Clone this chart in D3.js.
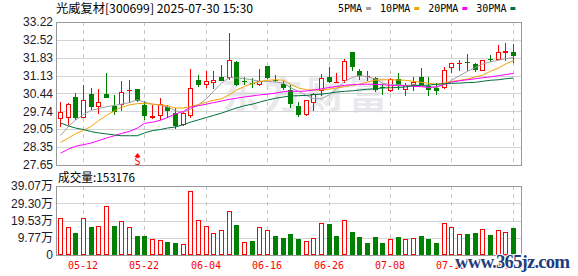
<!DOCTYPE html>
<html>
<head>
<meta charset="utf-8">
<script src="https://cdn.jsdelivr.net/npm/d3@7/dist/d3.min.js"></script>
<style>
  body { margin: 0; background: #fff; }
  svg { display: block; }
</style>
</head>
<body>
<div id="app"></div>
<script>
// DATA
const dates = [
  '05-07', '05-08', '05-09', '05-12', '05-13', '05-14', '05-15', '05-16', '05-19', '05-20',
  '05-21', '05-22', '05-23', '05-26', '05-27', '05-28', '05-29', '05-30', '06-03', '06-04',
  '06-05', '06-06', '06-09', '06-10', '06-11', '06-12', '06-13', '06-16', '06-17', '06-18',
  '06-19', '06-20', '06-23', '06-24', '06-25', '06-26', '06-27', '06-30', '07-01', '07-02',
  '07-03', '07-04', '07-07', '07-08', '07-09', '07-10', '07-11', '07-14', '07-15', '07-16',
  '07-17', '07-18', '07-21', '07-22', '07-23', '07-24', '07-25', '07-28', '07-29', '07-30'
];

const open = [
  29.43, 29.49, 30.30, 29.50, 30.41, 29.90, 30.41, 29.96, 29.97, 30.55,
  30.61, 29.99, 29.48, 29.55, 29.91, 29.67, 29.22, 29.55, 30.96, 30.75,
  30.84, 31.08, 31.04, 31.66, 30.93, 30.84, 30.75, 31.49, 30.97, 30.80,
  30.58, 29.93, 29.58, 30.05, 30.54, 31.08, 30.86, 30.91, 32.05, 31.32,
  31.09, 31.04, 30.69, 30.52, 31.01, 30.56, 30.78, 31.06, 30.71, 30.65,
  30.65, 31.43, 31.58, 31.68, 31.58, 31.30, 31.78, 31.75, 32.00, 32.04
];
const close = [
  29.70, 30.04, 29.48, 30.17, 29.91, 30.09, 30.27, 29.70, 30.48, 30.57,
  30.15, 29.57, 29.56, 30.03, 29.77, 29.18, 29.67, 30.65, 30.78, 30.91,
  30.96, 30.93, 31.73, 30.75, 30.91, 30.80, 30.91, 31.04, 30.93, 30.65,
  30.02, 29.58, 30.17, 30.41, 31.04, 30.88, 30.88, 31.71, 31.45, 31.10,
  31.13, 30.58, 30.65, 31.00, 30.78, 30.75, 30.87, 30.78, 30.57, 30.54,
  31.34, 31.61, 31.64, 31.65, 31.36, 31.73, 31.73, 32.04, 32.08, 31.91
];
const high = [
  30.10, 30.06, 30.45, 30.75, 30.65, 30.61, 31.23, 30.36, 30.91, 30.95,
  30.61, 30.15, 29.97, 30.26, 30.00, 29.87, 29.70, 31.39, 31.17, 31.32,
  31.32, 31.56, 32.79, 31.71, 31.06, 31.04, 31.39, 31.50, 31.14, 30.91,
  30.75, 30.10, 30.17, 30.45, 31.20, 31.47, 31.23, 31.79, 32.05, 31.39,
  31.30, 31.06, 30.80, 31.04, 31.23, 30.84, 31.06, 31.43, 31.06, 30.84,
  31.47, 31.61, 31.73, 31.97, 31.64, 31.75, 31.95, 32.34, 32.40, 32.36
];
const low = [
  29.14, 29.22, 29.42, 29.48, 29.80, 29.64, 30.27, 29.61, 29.74, 30.06,
  30.10, 29.42, 29.45, 29.39, 29.48, 29.06, 29.18, 29.50, 30.70, 30.65,
  30.61, 30.91, 30.97, 30.72, 30.75, 30.65, 30.71, 31.00, 30.88, 30.58,
  29.87, 29.53, 29.55, 29.74, 30.32, 30.84, 30.84, 30.84, 31.30, 30.97,
  30.91, 30.49, 30.39, 30.50, 30.58, 30.32, 30.54, 30.75, 30.35, 30.39,
  30.61, 31.23, 31.30, 31.32, 31.27, 31.30, 31.65, 31.73, 31.69, 31.62
];

const ma5 = [
  28.80, 29.15, 29.40, 29.62, 29.78, 29.85, 29.92, 29.97, 30.02, 30.08,
  30.19, 30.10, 30.02, 29.97, 29.91, 29.76, 29.70, 29.83, 30.00, 30.23,
  30.52, 30.84, 31.06, 31.04, 31.01, 30.97, 30.91, 30.91, 30.88, 30.84,
  30.67, 30.52, 30.36, 30.23, 30.23, 30.39, 30.61, 30.91, 31.06, 31.13,
  31.09, 31.00, 30.84, 30.78, 30.78, 30.75, 30.78, 30.73, 30.67, 30.67,
  30.78, 30.95, 31.13, 31.30, 31.45, 31.58, 31.67, 31.73, 31.79, 31.84
];
const ma10 = [
  28.53, 28.70, 28.86, 29.00, 29.16, 29.38, 29.58, 29.76, 29.90, 29.99,
  30.04, 30.05, 30.02, 30.00, 29.95, 29.87, 29.87, 29.93, 30.00, 30.10,
  30.17, 30.23, 30.39, 30.57, 30.71, 30.82, 30.90, 30.95, 30.97, 30.95,
  30.80, 30.65, 30.58, 30.57, 30.58, 30.61, 30.65, 30.70, 30.75, 30.80,
  30.88, 30.96, 30.97, 30.97, 30.96, 30.95, 30.91, 30.87, 30.83, 30.80,
  30.84, 30.90, 30.95, 31.00, 31.08, 31.15, 31.30, 31.43, 31.58, 31.71
];
const ma20 = [
  28.11, 28.27, 28.38, 28.44, 28.51, 28.60, 28.70, 28.79, 28.88, 28.96,
  29.09, 29.27, 29.32, 29.39, 29.50, 29.64, 29.74, 29.90, 29.96, 30.02,
  30.08, 30.14, 30.21, 30.25, 30.30, 30.34, 30.38, 30.41, 30.45, 30.51,
  30.53, 30.52, 30.53, 30.57, 30.62, 30.67, 30.71, 30.75, 30.78, 30.79,
  30.80, 30.79, 30.78, 30.75, 30.74, 30.73, 30.71, 30.70, 30.67, 30.70,
  30.80, 30.88, 30.93, 30.97, 31.01, 31.05, 31.08, 31.13, 31.17, 31.22
];
const ma30 = [
  29.29, 29.17, 29.09, 29.03, 28.95, 28.90, 28.86, 28.82, 28.79, 28.79,
  28.79, 28.90, 28.99, 29.03, 29.09, 29.13, 29.22, 29.32, 29.41, 29.50,
  29.58, 29.67, 29.78, 29.87, 29.96, 30.02, 30.10, 30.18, 30.25, 30.30,
  30.34, 30.35, 30.36, 30.39, 30.41, 30.45, 30.49, 30.52, 30.54, 30.57,
  30.60, 30.62, 30.65, 30.66, 30.67, 30.69, 30.75, 30.75, 30.76, 30.79,
  30.82, 30.83, 30.84, 30.86, 30.87, 30.91, 30.95, 30.97, 31.01, 31.04
];

// volume in 万手, and bar colour (1 = red / up, 0 = green / down)
const volume = [
  20.7, 15.6, 12.3, 20.7, 15.8, 16.7, 27.5, 16.4, 19.0, 15.6,
  10.6, 10.6, 9.3, 8.7, 7.2, 6.6, 6.4, 36.1, 19.6, 16.7,
  12.3, 13.9, 24.7, 16.9, 7.2, 7.8, 16.1, 14.4, 10.6, 9.5,
  11.8, 8.9, 7.8, 9.9, 18.4, 17.5, 10.6, 19.6, 12.9, 10.1,
  6.7, 10.1, 6.7, 9.3, 10.1, 8.9, 9.9, 10.6, 8.9, 6.7,
  18.4, 16.1, 11.8, 11.8, 12.5, 15.0, 11.2, 14.4, 12.9, 15.2
];
const volUp = [
  1, 1, 0, 1, 0, 1, 1, 0, 1, 1,
  0, 0, 1, 1, 0, 0, 1, 1, 1, 1,
  1, 1, 1, 0, 1, 0, 1, 1, 0, 0,
  0, 0, 1, 1, 1, 0, 0, 1, 0, 0,
  0, 0, 0, 1, 0, 1, 1, 0, 0, 0,
  1, 1, 1, 0, 0, 1, 0, 1, 1, 0
];

const priceTicks = [27.65, 28.35, 29.05, 29.74, 30.44, 31.13, 31.83, 32.52, 33.22];
const volTicks = [0, 9.77, 19.53, 29.30, 39.07];
const volTickLabels = ['0', '9.77万', '19.53万', '29.30万', '39.07万'];
const dateTicks = ['05-12', '05-22', '06-04', '06-16', '06-26', '07-08', '07-18', '07-30'];

const maNames = ['5PMA', '10PMA', '20PMA', '30PMA'];
const maColors = ['#a0a0a0', '#f5a300', '#ff00ff', '#00703c'];
const maSeries = [ma5, ma10, ma20, ma30];

const signals = [{ date: '05-21', label: 'S' }];

const title = '光威复材[300699] 2025-07-30 15:30';
const volTitle = '成交量:153176';

// LAYOUT
const W = 578, H = 276;
const left = 56, right = 522;
const pTop = 22, pBottom = 165;
const vTop = 186, vBottom = 255;
const RED = '#ff0000', GREEN = '#008000';
const GRID = '#d4d4d4', FRAME = '#999';
const NUM_FONT = '"Liberation Sans", Arial, sans-serif';
const MONO_FONT = '"DejaVu Sans Mono", monospace';
const CJK_FONT = '"Noto Sans CJK SC", sans-serif';

const x = d3.scaleBand().domain(dates).range([left, left + dates.length * 7.679]);
const xc = d => Math.round(x(d) + x.bandwidth() / 2);
const y = d3.scaleLinear().domain([27.65, 33.22]).range([pBottom, pTop]);
const yv = d3.scaleLinear().domain([0, 39.07]).range([vBottom, vTop]);

const $svg = d3.select('#app')
  .append('svg')
  .attr('width', W)
  .attr('height', H);

// watermark behind the chart
$svg.append('text')
  .attr('x', 222)
  .attr('y', 108)
  .attr('font-family', CJK_FONT)
  .attr('font-size', 38)
  .attr('font-weight', 'bold')
  .attr('fill', '#e9e9ed')
  .attr('textLength', 165)
  .text('东方财富');

// grid
function hGrid(scale, ticks) {
  $svg.append('g')
    .selectAll('line')
    .data(ticks)
    .join('line')
      .attr('x1', left).attr('x2', right)
      .attr('y1', d => Math.round(scale(d)) + 0.5)
      .attr('y2', d => Math.round(scale(d)) + 0.5)
      .attr('stroke', GRID);
}
hGrid(y, priceTicks);
hGrid(yv, volTicks);

[[pTop, pBottom], [vTop, vBottom]].forEach(([t, b]) => {
  $svg.append('g')
    .selectAll('line')
    .data(dateTicks)
    .join('line')
      .attr('x1', d => xc(d) + 0.5).attr('x2', d => xc(d) + 0.5)
      .attr('y1', t).attr('y2', b)
      .attr('stroke', '#c8c8c8')
      .attr('stroke-dasharray', '4,4');
});

// frames
$svg.append('rect')
  .attr('x', left + 0.5).attr('y', pTop + 0.5)
  .attr('width', right - left - 1).attr('height', pBottom - pTop)
  .attr('fill', 'none').attr('stroke', FRAME);
$svg.append('rect')
  .attr('x', left + 0.5).attr('y', vTop + 0.5)
  .attr('width', right - left - 1).attr('height', vBottom - vTop)
  .attr('fill', 'none').attr('stroke', FRAME);

// axes
const yAxis = d3.axisLeft(y).tickValues(priceTicks).tickFormat(d3.format('.2f')).tickSize(0).tickPadding(3);
$svg.append('g')
  .attr('transform', `translate(${left},0)`)
  .call(yAxis)
  .call(g => g.select('.domain').remove())
  .attr('font-family', NUM_FONT)
  .attr('font-size', 12)
  .selectAll('text').attr('fill', '#1a1a2e');

const vAxis = d3.axisLeft(yv).tickValues(volTicks).tickFormat((d, i) => volTickLabels[i]).tickSize(0).tickPadding(3);
$svg.append('g')
  .attr('transform', `translate(${left},0)`)
  .call(vAxis)
  .call(g => g.select('.domain').remove())
  .attr('font-family', NUM_FONT + ', ' + CJK_FONT)
  .attr('font-size', 12)
  .selectAll('text').attr('fill', '#1a1a2e');

const xAxis = d3.axisBottom(x).tickValues(dateTicks).tickSize(0).tickPadding(0);
$svg.append('g')
  .attr('transform', `translate(0,${vBottom})`)
  .call(xAxis)
  .call(g => g.select('.domain').remove())
  .attr('font-family', MONO_FONT)
  .attr('font-size', 10)
  .selectAll('text')
    .attr('fill', RED)
    .attr('x', 0)
    .attr('y', 14)
    .attr('dy', null);
// band ticks are centred on the band; shift to rounded centres
$svg.selectAll('.tick')
  .filter(d => dateTicks.includes(d))
  .attr('transform', d => `translate(${xc(d)},0)`);

// candles
const $candles = $svg.append('g');
dates.forEach((d, i) => {
  const cx = xc(d);
  const up = close[i] >= open[i];
  const col = up ? RED : GREEN;
  const yTop = Math.round(y(Math.max(open[i], close[i])));
  let yBot = Math.round(y(Math.min(open[i], close[i])));
  if (yBot - yTop < 1) yBot = yTop + 1;

  $candles.append('line')
    .attr('x1', cx + 0.5).attr('x2', cx + 0.5)
    .attr('y1', Math.round(y(high[i]))).attr('y2', Math.round(y(low[i])))
    .attr('stroke', col);

  if (up && yBot - yTop > 2) {
    $candles.append('rect')
      .attr('x', cx - 1.5).attr('y', yTop + 0.5)
      .attr('width', 4).attr('height', yBot - yTop - 1)
      .attr('fill', '#fff').attr('stroke', col);
  } else {
    $candles.append('rect')
      .attr('x', cx - 2).attr('y', yTop)
      .attr('width', 5).attr('height', yBot - yTop)
      .attr('fill', col);
  }
});

// moving averages
const line = d3.line()
  .x((d, i) => xc(dates[i]) + 0.5)
  .y(d => y(d));
maSeries.forEach((s, k) => {
  $svg.append('path')
    .attr('d', line(s))
    .attr('fill', 'none')
    .attr('stroke', maColors[k])
    .attr('stroke-width', 1);
});

// volume bars
const $vol = $svg.append('g');
dates.forEach((d, i) => {
  const cx = xc(d);
  const top = Math.round(yv(volume[i]));
  if (volUp[i]) {
    $vol.append('rect')
      .attr('x', cx - 1.5).attr('y', top + 0.5)
      .attr('width', 4).attr('height', vBottom - top - 1)
      .attr('fill', '#fff').attr('stroke', RED);
  } else {
    $vol.append('rect')
      .attr('x', cx - 2).attr('y', top)
      .attr('width', 5).attr('height', vBottom - top)
      .attr('fill', GREEN);
  }
});

// signal markers
signals.forEach(s => {
  const cx = xc(s.date) + 0.5;
  $svg.append('path')
    .attr('d', `M${cx - 3},157 L${cx},153 L${cx + 3},157 Z`)
    .attr('fill', RED);
  $svg.append('text')
    .attr('x', cx).attr('y', 165)
    .attr('text-anchor', 'middle')
    .attr('font-family', MONO_FONT)
    .attr('font-size', 10)
    .attr('fill', RED)
    .text(s.label);
});

// titles
$svg.append('text')
  .attr('x', 56).attr('y', 13)
  .attr('font-family', CJK_FONT)
  .attr('font-size', 12)
  .attr('fill', '#000')
  .attr('textLength', 197)
  .attr('lengthAdjust', 'spacingAndGlyphs')
  .text(title);

$svg.append('text')
  .attr('x', 58).attr('y', 182)
  .attr('font-family', CJK_FONT)
  .attr('font-size', 12)
  .attr('fill', '#000')
  .attr('textLength', 77)
  .attr('lengthAdjust', 'spacingAndGlyphs')
  .text(volTitle);

// legend
let lx = 338;
maNames.forEach((name, k) => {
  const t = $svg.append('text')
    .attr('x', lx).attr('y', 12)
    .attr('font-family', MONO_FONT)
    .attr('font-size', 10)
    .attr('fill', '#000')
    .text(name);
  lx += t.node().getComputedTextLength() + 4;
  $svg.append('rect')
    .attr('x', lx).attr('y', 7)
    .attr('width', 5).attr('height', 3)
    .attr('fill', maColors[k]);
  lx += 5 + 9;
});

// site watermark
$svg.append('text')
  .attr('x', 455).attr('y', 268)
  .attr('font-family', '"Liberation Serif", serif')
  .attr('font-size', 19)
  .attr('font-weight', 'bold')
  .attr('fill', '#1f3d7c')
  .attr('stroke', '#fff')
  .attr('stroke-width', 2)
  .attr('paint-order', 'stroke')
  .attr('textLength', 115)
  .text('www.365jz.com');
</script>
</body>
</html>
